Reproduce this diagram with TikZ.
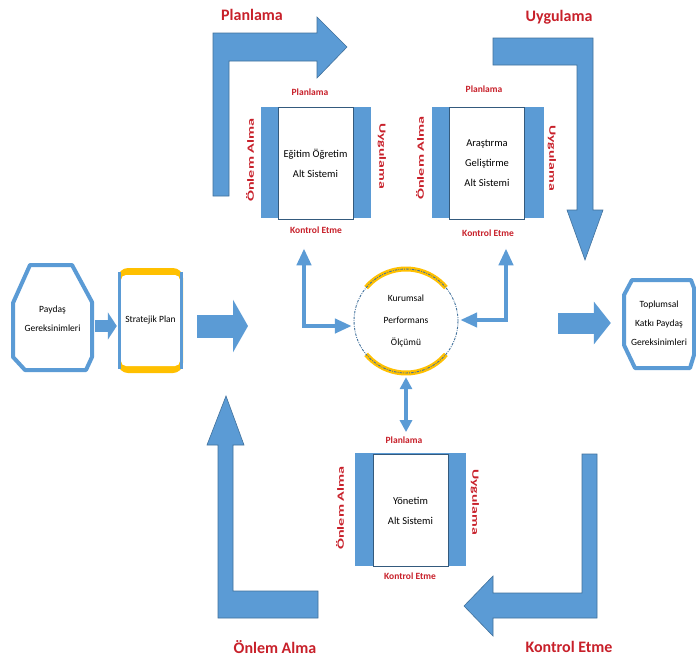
\documentclass[tikz,border=0pt]{standalone}
\usepackage{fontspec}
\setmainfont{Carlito}
\usetikzlibrary{arrows.meta,calc}
\definecolor{fblue}{HTML}{5B9BD5}
\definecolor{eblue}{HTML}{41719C}
\definecolor{lred}{HTML}{C8202A}
\definecolor{gold}{HTML}{FFC000}
\begin{document}
\begin{tikzpicture}[x=1pt,y=-1pt,
 bigl/.style={font=\bfseries\fontsize{16}{16}\selectfont, text=lred, inner sep=0},
 sl/.style={font=\bfseries\fontsize{9.5}{10}\selectfont, text=lred, inner sep=0},
 boxt/.style={font=\fontsize{9.5}{19}\selectfont, align=center, inner sep=0},
 shapeb/.style={fill=fblue, draw=eblue, line width=0.6pt, line join=miter},
 sub/.style={draw=eblue!80!black, fill=white, line width=0.8pt, minimum width=75, minimum height=112, inner sep=0, font=\fontsize{10.5}{20}\selectfont, align=center},
 conn/.style={draw=fblue, line width=4.5pt, arrows={Triangle[width=14pt,length=17pt]-Triangle[width=14pt,length=17pt]}},
 octa/.style={draw=fblue, line width=4pt, fill=white, line join=round}
]
\useasboundingbox (0,0) rectangle (696,664);
\fill[white] (0,0) rectangle (696,664);

% big L arrows
\draw[shapeb] (213,196) -- (213,33) -- (317,33) -- (317,17) -- (347,47) -- (317,78) -- (317,61) -- (229,61) -- (229,196) -- cycle;
\draw[shapeb] (493,38) -- (593,38) -- (593,210) -- (603,210) -- (585,260) -- (567,210) -- (577,210) -- (577,65) -- (493,65) -- cycle;
\draw[shapeb] (582,454) -- (597,454) -- (597,618) -- (493,618) -- (493,636) -- (464,606) -- (493,576) -- (493,593) -- (582,593) -- cycle;
\draw[shapeb] (318,618) -- (218,618) -- (218,445) -- (207,445) -- (226,396) -- (244,445) -- (233,445) -- (233,591) -- (318,591) -- cycle;

\node[bigl] (lplan) at (252,15) {Planlama};
\node[bigl] (luyg) at (559,17) {Uygulama};
\node[bigl] (lkon) at (569,647) {Kontrol Etme};
\node[bigl] (lonl) at (275,647) {Önlem Alma};

% Paydas octagon
\draw[octa] (30,265) -- (72,265) -- (92,302) -- (92,357) -- (86,370) -- (25,370) -- (13,357) -- (13,303) -- cycle;
\node[boxt, minimum width=79, minimum height=105] (pg) at (52.5,319) {Paydaş\\Gereksinimleri};

% Stratejik plan
\fill[gold, rounded corners=10] (118,268) rectangle (183,373);
\fill[white, rounded corners=5] (121,275) rectangle (180,366);
\draw[fblue, line width=2.5pt] (119.5,272) -- (119.5,369);
\draw[fblue, line width=2.5pt] (181.5,272) -- (181.5,369);
\node[boxt, minimum width=65, minimum height=105] (sp) at (150.5,320.5) {Stratejik Plan};

% Toplumsal octagon
\draw[octa] (632,280) -- (691,280) -- (694,288) -- (694,355) -- (690,368) -- (635,368) -- (624,345) -- (624,295) -- cycle;
\node[boxt, minimum width=70, minimum height=88] (tk) at (659,323) {Toplumsal\\Katkı Paydaş\\Gereksinimleri};

% circle
\node[circle, minimum size=104, inner sep=0, boxt, font=\fontsize{9.5}{22}\selectfont] (kpo) at (406,321) {Kurumsal\\Performans\\Ölçümü};
\draw[gold, line width=5pt] (kpo.center) ++(40:52) arc[start angle=40, end angle=140, radius=52];
\draw[gold, line width=5pt] (kpo.center) ++(220:52) arc[start angle=220, end angle=320, radius=52];
\draw[eblue, line width=0.9pt, dash pattern=on 2.5pt off 1.2pt on 0.8pt off 1.2pt] (kpo.center) circle[radius=52];

% subsystems
\fill[fblue] (261,107) rectangle (371,218);
\node[sub] (eg) at (315.5,163) {Eğitim Öğretim\\Alt Sistemi};
\fill[fblue] (432,107) rectangle (544,218);
\node[sub] (ag) at (487,163) {Araştırma\\Geliştirme\\Alt Sistemi};
\fill[fblue] (355,453) rectangle (466,566);
\node[sub] (yn) at (410.5,510.5) {Yönetim\\Alt Sistemi};

% subsystem labels
\node[sl] (eg1) at (310,92) {Planlama};
\node[sl] (eg2) at (316,230) {Kontrol Etme};
\node[sl, rotate=90] (eg3) at (250,160) {\scalebox{1.7}[1]{Önlem Alma}};
\node[sl, rotate=-90] (eg4) at (382,156) {\scalebox{1.65}[1]{Uygulama}};
\node[sl] (ag1) at (484,89) {Planlama};
\node[sl] (ag2) at (488,233) {Kontrol Etme};
\node[sl, rotate=90] (ag3) at (420,158) {\scalebox{1.7}[1]{Önlem Alma}};
\node[sl, rotate=-90] (ag4) at (552,158) {\scalebox{1.65}[1]{Uygulama}};
\node[sl] (yn1) at (404,440) {Planlama};
\node[sl] (yn2) at (410,576) {Kontrol Etme};
\node[sl, rotate=90] (yn3) at (340,508) {\scalebox{1.7}[1]{Önlem Alma}};
\node[sl, rotate=-90] (yn4) at (475,502) {\scalebox{1.65}[1]{Uygulama}};

% block arrows
\draw[fblue, line width=12pt, -{Triangle[width=27pt,length=9pt]}] ([xshift=3pt,yshift=-7pt]pg.east) -- ([xshift=-1pt,yshift=-5.5pt]sp.west);
\coordinate (a2) at (248,326);
\draw[fblue, line width=23pt, -{Triangle[width=52pt,length=15pt]}] ([xshift=14pt,yshift=-5.5pt]sp.east) -- (a2);
\coordinate (a3) at (558,323);
\draw[fblue, line width=21pt, -{Triangle[width=42pt,length=17pt]}] (a3) -- ([xshift=-13pt]tk.west);

% small connectors
\draw[conn] ([xshift=-11.5pt,yshift=-29pt]eg.south) |- ([xshift=-2pt,yshift=-5pt]kpo.west);
\draw[conn] ([xshift=19pt,yshift=-29pt]ag.south) |- ([xshift=2pt,yshift=1pt]kpo.east);
\draw[conn, arrows={Triangle[width=12pt,length=12pt]-Triangle[width=12pt,length=12pt]}] ([yshift=-4pt]kpo.south) -- ([xshift=-4.5pt,yshift=22pt]yn.north);
\end{tikzpicture}
\end{document}
